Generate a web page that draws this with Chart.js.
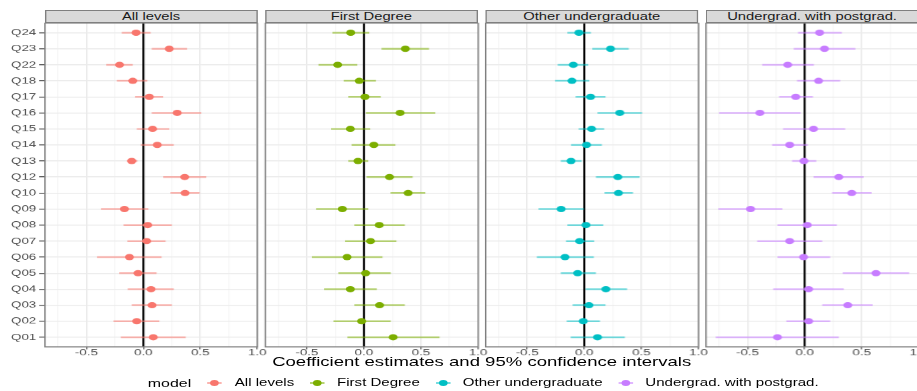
<!DOCTYPE html>
<html>
<head>
<meta charset="utf-8">
<script src="https://cdn.jsdelivr.net/npm/chart.js@4.4.1/dist/chart.umd.min.js"></script>
<style>
  html, body { margin: 0; padding: 0; background: #fff; width: 917px; height: 391px; overflow: hidden; }
  #stage {
    position: absolute; left: 0; top: 0; width: 633px; height: 391px;
    transform: scaleX(1.4487); transform-origin: 0 0;
    font-family: "Liberation Sans", Arial, sans-serif;
  }
  #stage canvas { position: absolute; }
  .strip {
    position: absolute; top: 10px; height: 13.1px; box-sizing: border-box;
    background: #d9d9d9; border: 1px solid #7f7f7f;
    text-align: center; font-size: 10.2px; line-height: 11.5px; color: #1a1a1a; white-space: nowrap;
  }
  #xtitle {
    position: absolute; left: 31px; width: 603px; top: 353.5px;
    text-align: center; font-size: 12.8px; line-height: 15px; color: #000; white-space: nowrap;
  }
  #legend {
    position: absolute; left: 102px; top: 376.7px; height: 12px;
    display: flex; align-items: center; white-space: nowrap; color: #000;
  }
  #legend .ltitle { font-size: 11px; line-height: 12px; margin-right: 10.3px; }
  #legend .item { display: flex; align-items: center; font-size: 10.4px; line-height: 12px; }
  #legend .item + .item { margin-left: 9.8px; }
  #legend .key { position: relative; width: 12px; height: 12px; margin-right: 7.8px; }
  #legend .key .bar { position: absolute; left: 0.9px; width: 10.3px; top: 5.15px; height: 1.7px; }
  #legend .key .dot { position: absolute; left: 2.9px; top: 2.9px; width: 6.2px; height: 6.2px; border-radius: 50%; }
</style>
</head>
<body>
<div id="stage"></div>
<script>
// Questions, bottom (Q01) to top (Q24)
const categories = ['Q01','Q02','Q03','Q04','Q05','Q06','Q07','Q08','Q09','Q10',
                    'Q12','Q13','Q14','Q15','Q16','Q17','Q18','Q22','Q23','Q24'];

const modelNames  = ['All levels', 'First Degree', 'Other undergraduate', 'Undergrad. with postgrad.'];
const modelColors = ['#F8766D', '#7CAE00', '#00BFC4', '#C77CFF'];
const barColors   = ['rgba(248,118,109,0.55)', 'rgba(124,174,0,0.55)', 'rgba(0,191,196,0.55)', 'rgba(199,124,255,0.55)'];

const xTicks    = [-0.75, -0.5, -0.25, 0, 0.25, 0.5, 0.75, 1];
const xLabelled = [-0.5, 0, 0.5, 1];
const xMin = -0.864, xMax = 1.001;

// Coefficient estimates with lower / upper 95% limits, in category order
const allLevelsEst = [0.087,-0.058,0.076,0.067,-0.047,-0.122,0.029,0.038,-0.166,0.366,
                      0.363,-0.102,0.122,0.081,0.297,0.052,-0.093,-0.209,0.227,-0.064];
const allLevelsLo  = [-0.198,-0.262,-0.102,-0.137,-0.212,-0.407,-0.140,-0.174,-0.372,0.238,
                      0.174,-0.145,-0.023,-0.058,0.073,-0.073,-0.233,-0.326,0.073,-0.190];
const allLevelsHi  = [0.372,0.140,0.250,0.267,0.116,0.160,0.195,0.250,0.044,0.494,
                      0.552,-0.052,0.267,0.227,0.509,0.174,0.035,-0.093,0.384,0.064];

const firstDegEst = [0.256,-0.020,0.137,-0.119,0.015,-0.148,0.058,0.134,-0.189,0.387,
                     0.224,-0.052,0.087,-0.119,0.317,0.009,-0.041,-0.230,0.363,-0.116];
const firstDegLo  = [-0.145,-0.267,-0.084,-0.349,-0.224,-0.456,-0.166,-0.084,-0.419,0.233,
                     0.023,-0.137,-0.108,-0.288,0.017,-0.137,-0.177,-0.398,0.154,-0.276];
const firstDegHi  = [0.663,0.235,0.358,0.113,0.235,0.163,0.285,0.358,0.038,0.538,
                     0.427,0.038,0.276,0.055,0.625,0.148,0.105,-0.058,0.570,0.047];

const otherUgEst = [0.116,-0.009,0.041,0.189,-0.058,-0.169,-0.041,0.015,-0.203,0.299,
                    0.294,-0.116,0.020,0.064,0.311,0.055,-0.108,-0.096,0.230,-0.047];
const otherUgLo  = [-0.119,-0.154,-0.102,0.012,-0.206,-0.416,-0.160,-0.148,-0.401,0.177,
                    0.102,-0.206,-0.116,-0.049,0.116,-0.076,-0.256,-0.233,0.070,-0.148];
const otherUgHi  = [0.355,0.137,0.186,0.375,0.102,0.084,0.087,0.166,-0.003,0.427,
                    0.485,-0.023,0.154,0.174,0.506,0.186,0.044,0.035,0.390,0.058];

const ugPostEst = [-0.238,0.035,0.378,0.035,0.625,-0.009,-0.131,0.023,-0.474,0.413,
                   0.299,-0.006,-0.131,0.078,-0.392,-0.078,0.122,-0.148,0.174,0.131];
const ugPostLo  = [-0.779,-0.160,0.154,-0.276,0.334,-0.238,-0.416,-0.238,-0.756,0.241,
                   0.078,-0.110,-0.285,-0.189,-0.750,-0.224,-0.067,-0.372,-0.096,-0.058];
const ugPostHi  = [0.299,0.224,0.596,0.343,0.916,0.224,0.154,0.282,-0.195,0.587,
                   0.517,0.102,0.029,0.355,-0.035,0.073,0.311,0.081,0.445,0.326];

const panelSeries = [
  [allLevelsEst, allLevelsLo, allLevelsHi],
  [firstDegEst, firstDegLo, firstDegHi],
  [otherUgEst, otherUgLo, otherUgHi],
  [ugPostEst, ugPostLo, ugPostHi]
];

// Facet geometry (the stage is stretched horizontally by STRETCH)
const STRETCH = 1.4487;
const PANEL_LEFTS = [31, 183.1, 335.2, 487.3];
const PANEL_W = 146.5;
const Y_AXIS_W = 31;
const CANVAS_TOP = 13, CANVAS_H = 354;

Chart.defaults.font.family = '"Liberation Sans", Arial, sans-serif';

const stage = document.getElementById('stage');

const zeroLine = {
  id: 'zeroLine',
  beforeDatasetsDraw(chart) {
    const {ctx, chartArea: a, scales: {x}} = chart;
    const px = x.getPixelForValue(0);
    ctx.save();
    ctx.strokeStyle = '#000';
    ctx.lineWidth = 1.4;
    ctx.beginPath(); ctx.moveTo(px, a.top); ctx.lineTo(px, a.bottom); ctx.stroke();
    ctx.restore();
  }
};

const panelBorder = {
  id: 'panelBorder',
  afterDraw(chart) {
    const {ctx, chartArea: a} = chart;
    ctx.save();
    ctx.strokeStyle = '#7f7f7f';
    ctx.lineWidth = 1;
    ctx.strokeRect(a.left, a.top, a.right - a.left, a.bottom - a.top);
    ctx.restore();
  }
};

function segments(lo, hi) {
  const pts = [];
  lo.forEach((l, i) => {
    pts.push({x: l, y: i + 1}, {x: hi[i], y: i + 1}, {x: null, y: null});
  });
  return pts;
}

panelSeries.forEach(([est, lo, hi], k) => {
  const first = k === 0;
  const canvasLeft = first ? 0 : Math.floor(PANEL_LEFTS[k] - 12);
  const padLeft = first ? 0 : PANEL_LEFTS[k] - canvasLeft;
  const yW = first ? Y_AXIS_W : 0;
  const width = Math.ceil(yW + padLeft + PANEL_W + 12);
  const padRight = width - yW - padLeft - PANEL_W;

  const canvas = document.createElement('canvas');
  canvas.width = width; canvas.height = CANVAS_H;
  canvas.style.width = width + 'px'; canvas.style.height = CANVAS_H + 'px';
  canvas.style.left = canvasLeft + 'px'; canvas.style.top = CANVAS_TOP + 'px';
  stage.appendChild(canvas);

  const strip = document.createElement('div');
  strip.className = 'strip';
  strip.style.left = PANEL_LEFTS[k] + 'px';
  strip.style.width = PANEL_W + 'px';
  strip.textContent = modelNames[k];
  stage.appendChild(strip);

  new Chart(canvas, {
    type: 'scatter',
    data: {
      datasets: [
        {
          data: est.map((v, i) => ({x: v, y: i + 1})),
          backgroundColor: modelColors[k],
          borderWidth: 0,
          pointRadius: 3.1,
          pointHoverRadius: 3.1
        },
        {
          type: 'line',
          data: segments(lo, hi),
          borderColor: barColors[k],
          borderWidth: 1.7,
          borderCapStyle: 'butt',
          pointRadius: 0,
          pointHoverRadius: 0,
          fill: false,
          spanGaps: false,
          tension: 0
        }
      ]
    },
    options: {
      responsive: false,
      animation: false,
      devicePixelRatio: STRETCH,
      events: [],
      layout: { padding: { top: 10.1, bottom: 0.7, left: padLeft, right: padRight } },
      plugins: { legend: { display: false }, tooltip: { enabled: false } },
      scales: {
        x: {
          type: 'linear',
          min: xMin, max: xMax,
          afterBuildTicks: s => { s.ticks = xTicks.map(v => ({value: v})); },
          afterFit: s => { s.height = 20; },
          border: { display: false },
          grid: {
            color: c => xLabelled.includes(c.tick.value) ? '#e4e4e4' : '#f1f1f1',
            lineWidth: c => xLabelled.includes(c.tick.value) ? 0.8 : 0.55,
            drawTicks: true,
            tickLength: 2.5,
            tickColor: c => xLabelled.includes(c.tick.value) ? '#555' : 'rgba(0,0,0,0)',
            tickWidth: 0.8
          },
          ticks: {
            autoSkip: false, maxRotation: 0, padding: -2,
            font: { size: 9.2 }, color: '#4d4d4d',
            callback: v => xLabelled.includes(v) ? v.toFixed(1) : ''
          }
        },
        y: {
          type: 'linear',
          min: 0.4, max: categories.length + 0.6,
          afterBuildTicks: s => { s.ticks = categories.map((_, i) => ({value: i + 1})); },
          afterFit: s => { s.width = yW; },
          border: { display: false },
          grid: {
            color: '#ebebeb', lineWidth: 1,
            drawTicks: first, tickLength: 4, tickColor: '#555', tickWidth: 1
          },
          ticks: {
            display: first, autoSkip: false, padding: 2,
            font: { size: 9.2 }, color: '#4d4d4d',
            callback: v => categories[v - 1]
          }
        }
      }
    },
    plugins: [zeroLine, panelBorder]
  });
});

// Axis title
const xt = document.createElement('div');
xt.id = 'xtitle';
xt.textContent = 'Coefficient estimates and 95% confidence intervals';
stage.appendChild(xt);

// Legend
const lg = document.createElement('div');
lg.id = 'legend';
const lt = document.createElement('span');
lt.className = 'ltitle'; lt.textContent = 'model';
lg.appendChild(lt);
modelNames.forEach((name, k) => {
  const item = document.createElement('span'); item.className = 'item';
  const key = document.createElement('span'); key.className = 'key';
  const bar = document.createElement('span'); bar.className = 'bar'; bar.style.background = barColors[k];
  const dot = document.createElement('span'); dot.className = 'dot'; dot.style.background = modelColors[k];
  key.appendChild(bar); key.appendChild(dot);
  item.appendChild(key);
  item.appendChild(document.createTextNode(name));
  lg.appendChild(item);
});
stage.appendChild(lg);
</script>
</body>
</html>
